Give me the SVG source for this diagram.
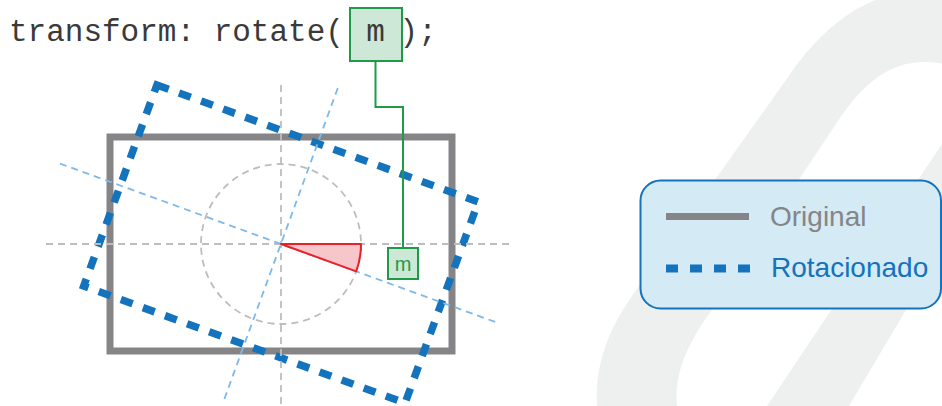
<svg xmlns="http://www.w3.org/2000/svg" width="942" height="406" viewBox="0 0 942 406">
<style>
.code{font-family:"Liberation Mono","Courier New",monospace;font-size:31px;fill:#3a3a3a}
.axis{fill:none;stroke:#bdbdbd;stroke-width:1.8;stroke-dasharray:7 5}
.raxis{fill:none;stroke:#7db9e9;stroke-width:1.8;stroke-dasharray:7 5}
.orig{fill:none;stroke:#858588;stroke-width:7}
.rot{fill:none;stroke:#1473bd;stroke-width:7.5;stroke-dasharray:12.5 11}
.gbox{fill:#cde8d6;stroke:#1f9a48;stroke-width:2}
.glink{fill:none;stroke:#1f9a48;stroke-width:2}
.leg{font-family:"Liberation Sans",Arial,sans-serif;font-size:28px}
</style>
<rect width="942" height="406" fill="#ffffff"/>
<path id="bg-shape" fill="#eef0f0" fill-rule="evenodd" d="M597 406 C594 350 620 310 651 270 L793 70 C825 25 870 -10 925 -10 L1096 -10 L849 406 Z M677 406 C674 370 690 340 712 310 L840 118 C865 82 890 62 925 62 C950 62 968 72 978 90 L767 406 Z"/>
<text class="code" x="9" y="41">transform: rotate(</text>
<text class="code" x="399.6" y="41">);</text>
<g id="param-top">
<rect class="gbox" x="350" y="8" width="52" height="53"/>
<text class="code" x="375.5" y="41" text-anchor="middle">m</text>
</g>
<g id="original">
<rect class="orig" x="110" y="137" width="342" height="214"/>
</g>
<g id="rotated">
<rect class="rot" x="110" y="137" width="342" height="214" transform="rotate(20 281 244)"/>
</g>
<g id="axes">
<line class="axis" x1="46" y1="244" x2="512" y2="244"/>
<line class="axis" x1="281" y1="85" x2="281" y2="406"/>
<circle class="axis" cx="281" cy="244" r="80"/>
<line class="raxis" x1="60" y1="163.6" x2="497" y2="322.6"/>
<line class="raxis" x1="337.8" y1="88" x2="224" y2="400"/>
</g>
<g id="angle">
<path d="M281 244 L361 244 A80 80 0 0 1 356.2 271.4 Z" fill="#f7c6ca" stroke="#e8202a" stroke-width="2" stroke-linejoin="round"/>
</g>
<g id="connectors">
<polyline class="glink" points="375.5,61 375.5,107 403,107 403,248"/>
</g>
<g id="param-m">
<rect class="gbox" x="388" y="248" width="30" height="31"/>
<text x="403" y="271" text-anchor="middle" font-family="Liberation Sans,Arial,sans-serif" font-size="20" fill="#1f9a48">m</text>
</g>
<g id="legend">
<rect x="640.5" y="180.5" width="300.5" height="128" rx="20" fill="#d4eaf5" stroke="#1473bd" stroke-width="2"/>
<line x1="666" y1="216.5" x2="749" y2="216.5" stroke="#858588" stroke-width="7"/>
<line x1="666" y1="268.5" x2="750" y2="268.5" stroke="#1473bd" stroke-width="8" stroke-dasharray="12 12"/>
<text class="leg" x="770" y="226" fill="#858588">Original</text>
<text class="leg" x="771" y="277" fill="#1473bd">Rotacionado</text>
</g>
</svg>
